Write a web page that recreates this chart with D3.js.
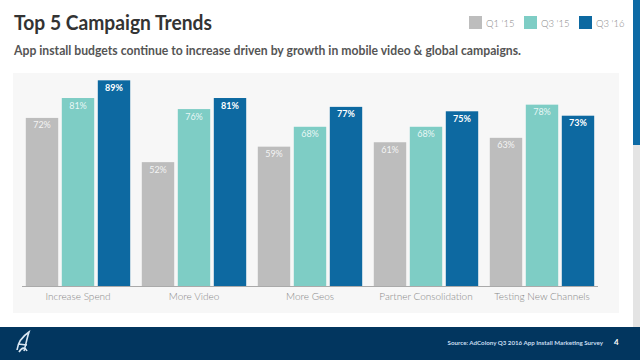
<!DOCTYPE html>
<html><head><meta charset="utf-8">
<script src="https://cdn.jsdelivr.net/npm/d3@7/dist/d3.min.js"></script>
<style>html,body{margin:0;padding:0;background:#fff;}svg{display:block;font-family:Lato,"Open Sans",sans-serif;}</style>
</head><body>
<svg id="c" width="640" height="360"></svg>
<script>
const categories = ["Increase Spend","More Video","More Geos","Partner Consolidation","Testing New Channels"];
const seriesNames = ["Q1 '15","Q3 '15","Q3 '16"];
const q1_15 = [72,52,59,61,63];
const q3_15 = [81,76,68,68,78];
const q3_16 = [89,81,77,75,73];
const seriesValues = [q1_15,q3_15,q3_16];
const colors = ["#bdbdbd","#7ecdc5","#0d69a1"];

const svg = d3.select("#c");
// backgrounds
svg.append("rect").attr("x",0).attr("y",0).attr("width",640).attr("height",360).attr("fill","#fff");
svg.append("rect").attr("x",13).attr("y",73).attr("width",606).attr("height",240).attr("fill","#f7f7f7");
svg.append("rect").attr("x",633).attr("y",0).attr("width",7).attr("height",145).attr("fill","#0d6aa5");
svg.append("rect").attr("x",633).attr("y",145).attr("width",7).attr("height",182).attr("fill","#e4e4e4");
svg.append("rect").attr("x",0).attr("y",327).attr("width",640).attr("height",33).attr("fill","#02365f");

// title
svg.append("text").attr("x",14).attr("y",30).attr("font-size",21.5).attr("font-weight",700)
  .attr("fill","#333").attr("textLength",198).attr("lengthAdjust","spacingAndGlyphs").text("Top 5 Campaign Trends");
svg.append("text").attr("x",14).attr("y",55).attr("font-size",12.6).attr("font-weight",700)
  .attr("fill","#555").attr("textLength",507).attr("lengthAdjust","spacingAndGlyphs")
  .text("App install budgets continue to increase driven by growth in mobile video & global campaigns.");

// legend
const lg = svg.append("g");
seriesNames.forEach((s,i)=>{
  const x = 469 + i*55;
  lg.append("rect").attr("x",x).attr("y",16).attr("width",13).attr("height",13).attr("fill",colors[i]);
  lg.append("text").attr("x",x+17).attr("y",26.5).attr("font-size",9.5).attr("font-weight",300).attr("fill","#888").text(s);
});

// scales
const x0 = d3.scaleBand().domain(categories).range([20,600]).paddingInner(0.1).paddingOuter(0.05);
const x1 = d3.scaleBand().domain(d3.range(3)).range([0,x0.bandwidth()]).paddingInner(0.1);
const y = d3.scaleLinear().domain([-4,100]).range([286,56]);

const g = svg.append("g");
categories.forEach((c,ci)=>{
  seriesValues.forEach((vals,si)=>{
    const v = vals[ci];
    const bx = x0(c)+x1(si);
    g.append("rect").attr("x",bx).attr("y",y(v)).attr("width",x1.bandwidth())
      .attr("height",y(-4)-y(v)).attr("fill",colors[si]);
    g.append("text").attr("x",bx+x1.bandwidth()/2).attr("y",y(v)+10.5)
      .attr("text-anchor","middle").attr("font-size",9).attr("font-weight",si===2?700:400)
      .attr("fill","#fff").attr("fill-opacity",si===2?1:0.85).text(v+"%");
  });
});

// axis
const ax = svg.append("g").attr("transform","translate(0,286)").call(d3.axisBottom(x0).tickSize(0).tickPadding(7));
ax.select(".domain").attr("stroke","#aaa").attr("d","M22,0.5H598");
ax.selectAll("text").attr("font-size",10).attr("font-weight",300).attr("fill","#888").attr("font-family","Lato,'Open Sans',sans-serif");

// footer
const logo = svg.append("g").attr("transform","translate(14,332)");
logo.append("path").attr("d","M3,18 C4,10 9,4 15,0 C13,6 12,12 10,19 M4,12 L13,13 M5,20 C8,15 11,15 13,19")
  .attr("fill","none").attr("stroke","#d8e6f2").attr("stroke-width",1.6);
svg.append("text").attr("x",603).attr("y",344.5).attr("text-anchor","end").attr("font-size",6.2)
  .attr("fill","#c9def0").attr("font-weight",700)
  .text("Source:  AdColony Q3 2016 App Install Marketing Survey");
svg.append("text").attr("x",614).attr("y",345).attr("font-size",8).attr("font-weight",700)
  .attr("fill","#fff").text("4");
</script>
</body></html>
